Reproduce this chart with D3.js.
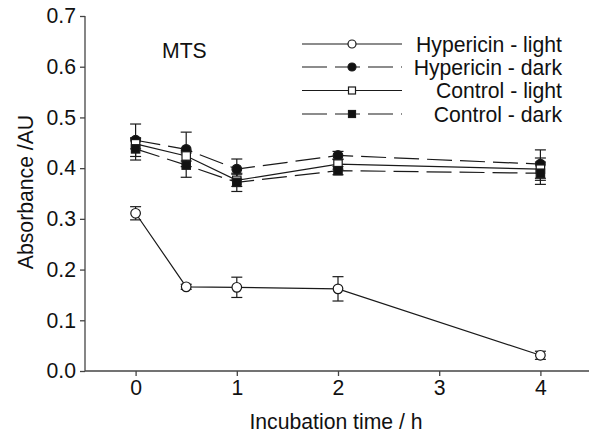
<!DOCTYPE html>
<html>
<head>
<meta charset="utf-8">
<script src="https://cdn.jsdelivr.net/npm/d3@7"></script>
<style>
html,body{margin:0;padding:0;background:#fff;}
svg{display:block;}
text{font-family:"Liberation Sans",Arial,Helvetica,sans-serif;fill:#111;}
</style>
</head>
<body>
<svg id="chart" width="589" height="433"></svg>
<script>
// ---- data ----
const times = [0, 0.5, 1, 2, 4];
const xTicks = [0, 1, 2, 3, 4];
const yTicks = [0.0, 0.1, 0.2, 0.3, 0.4, 0.5, 0.6, 0.7];
const seriesNames = ["Hypericin - light", "Hypericin - dark", "Control - light", "Control - dark"];
const hypLight = [0.311, 0.166, 0.165, 0.162, 0.031];
const hypLightErr = [0.013, 0.005, 0.020, 0.024, 0.008];
const hypDark = [0.455, 0.437, 0.398, 0.425, 0.408];
const hypDarkErr = [0.032, 0.034, 0.020, 0.008, 0.028];
const ctrlLight = [0.448, 0.424, 0.376, 0.408, 0.398];
const ctrlLightErr = [0.010, 0.010, 0.012, 0.010, 0.022];
const ctrlDark = [0.438, 0.406, 0.372, 0.395, 0.390];
const ctrlDarkErr = [0.022, 0.024, 0.018, 0.008, 0.022];
const chartLabel = "MTS";
const xTitle = "Incubation time / h";
const yTitle = "Absorbance /AU";

// styles per series
const styles = [
  {marker: "circle", fill: "#fff", dash: null},
  {marker: "circle", fill: "#111", dash: "25,8"},
  {marker: "square", fill: "#fff", dash: null},
  {marker: "square", fill: "#111", dash: "25,8"}
];
const seriesVals = [hypLight, hypDark, ctrlLight, ctrlDark];
const seriesErrs = [hypLightErr, hypDarkErr, ctrlLightErr, ctrlDarkErr];

const svg = d3.select("#chart");
const x = d3.scaleLinear().domain([-0.5, 4.5]).range([85, 591]);
const y = d3.scaleLinear().domain([0, 0.7]).range([371, 16]);
const ink = "#1a1a1a";
const FS = 21.2;

// axes
const gy = svg.append("g").attr("transform", "translate(85,0)")
  .call(d3.axisLeft(y).tickValues(yTicks).tickFormat(d3.format(".1f")).tickSize(5).tickPadding(4));
const gx = svg.append("g").attr("transform", "translate(0,371)")
  .call(d3.axisBottom(x).tickValues(xTicks).tickFormat(d3.format("d")).tickSize(5).tickPadding(4));
[gx, gy].forEach(g => {
  g.select(".domain").attr("stroke", "#444").attr("stroke-width", 1.3);
  g.selectAll(".tick line").attr("stroke", "#444").attr("stroke-width", 1.3);
  g.selectAll(".tick text").attr("font-size", FS).attr("fill", ink)
    .attr("font-family", "Liberation Sans, Arial, sans-serif");
});
gx.select(".domain").attr("d", "M85,0H589");
gy.select(".domain").attr("d", "M0,16V371");

// titles
svg.append("text").attr("x", 336).attr("y", 429).attr("text-anchor", "middle")
  .attr("font-size", FS).text(xTitle);
svg.append("text").attr("transform", "translate(33,192) rotate(-90)")
  .attr("text-anchor", "middle").attr("font-size", FS).text(yTitle);
svg.append("text").attr("x", 162).attr("y", 58).attr("font-size", FS).text(chartLabel);

// marker drawing
function drawMarker(g, st, cx, cy, r) {
  if (st.marker === "circle") {
    g.append("circle").attr("cx", cx).attr("cy", cy).attr("r", r)
      .attr("fill", st.fill).attr("stroke", ink).attr("stroke-width", 1.2);
  } else {
    const s = r * 1.75;
    g.append("rect").attr("x", cx - s / 2).attr("y", cy - s / 2).attr("width", s).attr("height", s)
      .attr("fill", st.fill).attr("stroke", ink).attr("stroke-width", 1.2);
  }
}

const line = d3.line().x(d => x(d[0])).y(d => y(d[1]));
const plot = svg.append("g");
// lines and error bars first
seriesVals.forEach((vals, si) => {
  const st = styles[si];
  const pts = times.map((t, i) => [t, vals[i]]);
  plot.append("path").attr("d", line(pts)).attr("fill", "none")
    .attr("stroke", ink).attr("stroke-width", 1.2)
    .attr("stroke-dasharray", st.dash);
  const errs = seriesErrs[si];
  times.forEach((t, i) => {
    const cx = x(t), y1 = y(vals[i] + errs[i]), y2 = y(vals[i] - errs[i]);
    const eb = plot.append("g").attr("stroke", ink).attr("stroke-width", 1.2);
    eb.append("line").attr("x1", cx).attr("x2", cx).attr("y1", y1).attr("y2", y2);
    eb.append("line").attr("x1", cx - 5.5).attr("x2", cx + 5.5).attr("y1", y1).attr("y2", y1);
    eb.append("line").attr("x1", cx - 5.5).attr("x2", cx + 5.5).attr("y1", y2).attr("y2", y2);
  });
});
// markers
seriesVals.forEach((vals, si) => {
  times.forEach((t, i) => drawMarker(plot, styles[si], x(t), y(vals[i]), 4.8));
});

// legend
const legY = [44, 67, 90.5, 114];
const leg = svg.append("g");
seriesNames.forEach((name, i) => {
  const st = styles[i];
  leg.append("line").attr("x1", 302).attr("x2", 402).attr("y1", legY[i]).attr("y2", legY[i])
    .attr("stroke", ink).attr("stroke-width", 1.2).attr("stroke-dasharray", st.dash);
  drawMarker(leg, st, 352, legY[i], 4);
  leg.append("text").attr("x", 562).attr("y", legY[i] + 7.5).attr("text-anchor", "end")
    .attr("font-size", FS).text(name);
});
</script>
</body>
</html>
